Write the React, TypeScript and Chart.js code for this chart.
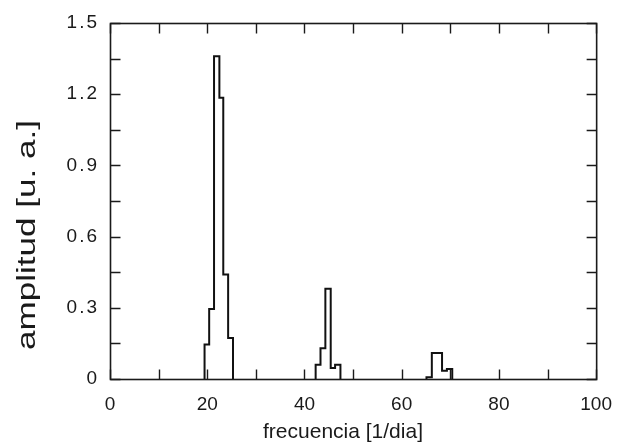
import React, { useEffect, useRef } from "react";
import { Chart, registerables } from "chart.js";

Chart.register(...registerables);

// Histogram bins: edges and amplitudes, per peak
const peak1Edges = [19.45, 20.4, 21.4, 22.5, 23.3, 24.3, 25.3];
const peak1Amp = [0.145, 0.295, 1.36, 1.185, 0.44, 0.173];
const peak2Edges = [42.3, 43.3, 44.3, 45.4, 46.3, 47.4];
const peak2Amp = [0.06, 0.13, 0.38, 0.046, 0.06];
const peak3Edges = [65.1, 66.2, 68.3, 69.3, 70.4];
const peak3Amp = [0.007, 0.11, 0.035, 0.042];

const xTickMarks = [0, 10, 20, 30, 40, 50, 60, 70, 80, 90, 100];
const yTickMarks = [0, 0.15, 0.3, 0.45, 0.6, 0.75, 0.9, 1.05, 1.2, 1.35, 1.5];

const xTitle = "frecuencia [1/dia]";
const yTitle = "amplitud [u. a.]";

function peakPoints(edges: number[], amps: number[]) {
  const pts: { x: number; y: number }[] = [{ x: edges[0], y: 0 }];
  amps.forEach((a, i) => pts.push({ x: edges[i], y: a }));
  pts.push({ x: edges[edges.length - 1], y: 0 });
  return pts;
}

const FONT = "'Liberation Sans', Arial, sans-serif";
const TEXT = "#1a1a1a";
const fmtY = (v: number) => String(Number(Number(v).toFixed(2)));

const framePlugin = {
  id: "frame",
  afterDraw(chart: any) {
    const { ctx, chartArea, scales } = chart;
    const { left, right, top, bottom } = chartArea;
    ctx.save();
    ctx.strokeStyle = "#1a1a1a";
    ctx.lineWidth = 1.6;
    ctx.strokeRect(left + 0.5, top + 0.5, right - left, bottom - top);
    ctx.lineWidth = 1.4;
    const L = 10;
    ctx.beginPath();
    xTickMarks.forEach((v) => {
      const px = Math.round(scales.x.getPixelForValue(v)) + 0.5;
      ctx.moveTo(px, bottom + 0.5);
      ctx.lineTo(px, bottom + 0.5 - L);
      ctx.moveTo(px, top + 0.5);
      ctx.lineTo(px, top + 0.5 + L);
    });
    yTickMarks.forEach((v) => {
      const py = Math.round(scales.y.getPixelForValue(v)) + 0.5;
      ctx.moveTo(left + 0.5, py);
      ctx.lineTo(left + 0.5 + L, py);
      ctx.moveTo(right + 0.5, py);
      ctx.lineTo(right + 0.5 - L, py);
    });
    ctx.stroke();

    // y tick labels (values from the library's own tick generation)
    ctx.fillStyle = TEXT;
    ctx.font = `19px ${FONT}`;
    ctx.textAlign = "right";
    ctx.textBaseline = "middle";
    (ctx as any).letterSpacing = "2px";
    scales.y.ticks.forEach((t: any) => {
      const py = scales.y.getPixelForValue(t.value);
      ctx.fillText(fmtY(t.value), left - 11, py);
    });
    (ctx as any).letterSpacing = "0px";

    ctx.font = `21px ${FONT}`;
    ctx.textAlign = "center";
    ctx.textBaseline = "alphabetic";
    ctx.fillText(xTitle, 343, 438);
    ctx.translate(35, 235);
    ctx.rotate(-Math.PI / 2);
    ctx.scale(1.35, 1);
    ctx.font = `26px ${FONT}`;
    ctx.fillText(yTitle, 0, 0);
    ctx.restore();
  },
};

export default function App() {
  const ref = useRef<HTMLCanvasElement | null>(null);
  useEffect(() => {
    if (!ref.current) return;
    const mk = (data: { x: number; y: number }[]) => ({
      data,
      borderColor: "#111",
      borderWidth: 2,
      pointRadius: 0,
      stepped: true,
      fill: false,
      clip: 6,
    });
    const chart = new Chart(ref.current, {
      type: "line",
      data: {
        datasets: [
          mk(peakPoints(peak1Edges, peak1Amp)),
          mk(peakPoints(peak2Edges, peak2Amp)),
          mk(peakPoints(peak3Edges, peak3Amp)),
        ] as any,
      },
      options: {
        animation: false,
        responsive: true,
        maintainAspectRatio: false,
        layout: { padding: { top: 23, right: 20, left: 0, bottom: 0 } },
        plugins: { legend: { display: false }, tooltip: { enabled: false } },
        scales: {
          x: {
            type: "linear",
            min: 0,
            max: 100,
            grid: { display: false, drawTicks: false },
            border: { display: false },
            ticks: {
              stepSize: 20,
              padding: 14,
              color: TEXT,
              font: { family: FONT, size: 19 },
              maxRotation: 0,
              callback: (v: any) => String(Math.round(Number(v))),
            },
            afterFit: (s: any) => {
              s.height = 67;
            },
          },
          y: {
            type: "linear",
            min: 0,
            max: 1.5,
            grid: { display: false, drawTicks: false },
            border: { display: false },
            ticks: {
              stepSize: 0.3,
              display: false,
              callback: (v: any) => fmtY(v),
            },
            afterFit: (s: any) => {
              s.width = 110;
            },
          },
        },
      },
      plugins: [framePlugin],
    });
    return () => chart.destroy();
  }, []);
  return (
    <div style={{ position: "fixed", left: 0, top: 0, width: 626, height: 446 }}>
      <canvas ref={ref} />
    </div>
  );
}
